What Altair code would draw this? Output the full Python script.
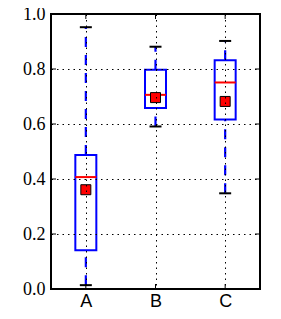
import altair as alt
import pandas as pd

cats = ["A", "B", "C"]
whisk_lo = [0.014, 0.591, 0.348]
q1 = [0.141, 0.658, 0.616]
median = [0.407, 0.706, 0.751]
q3 = [0.487, 0.797, 0.832]
whisk_hi = [0.952, 0.881, 0.902]
mean = [0.361, 0.696, 0.682]
y_ticks = [0.0, 0.2, 0.4, 0.6, 0.8, 1.0]

W, H = 209, 275

df = pd.DataFrame({"cat": cats, "lo": whisk_lo, "q1": q1, "med": median,
                   "q3": q3, "hi": whisk_hi, "mean": mean})
ticks_df = pd.DataFrame({"t": y_ticks})
frame_df = pd.DataFrame({"f": [0]})

xenc = alt.X("cat:N", scale=alt.Scale(type="point", padding=0.5, domain=cats),
             axis=alt.Axis(title=None, labelAngle=0, ticks=False, tickSize=0, domain=False,
                           grid=True, gridColor="black", gridDash=[1.5, 4], gridWidth=1,
                           labelFont="Liberation Sans", labelFontSize=18, labelColor="black",
                           labelPadding=3, zindex=1))
yscale = alt.Scale(domain=[0, 1], nice=False, zero=False)
yaxis = alt.Axis(title=None, values=y_ticks, format=".1f", ticks=False, tickSize=0, domain=False,
                 grid=True, gridColor="black", gridDash=[1.5, 4], gridWidth=1,
                 labelFont="Liberation Serif", labelFontSize=18, labelColor="black",
                 labelPadding=6, zindex=1)

base = alt.Chart(df)
blue = "#0000ff"

wl = base.mark_rule(color=blue, strokeWidth=2.2, strokeDash=[10, 8]).encode(
    x=xenc, y=alt.Y("lo:Q", scale=yscale, axis=yaxis), y2="q1:Q")
wh = base.mark_rule(color=blue, strokeWidth=2.2, strokeDash=[10, 8]).encode(
    x="cat:N", y="q3:Q", y2="hi:Q")
box = base.mark_bar(size=21, fill="white", fillOpacity=0, stroke=blue, strokeWidth=2).encode(
    x="cat:N", y="q1:Q", y2="q3:Q")
cap_lo = base.mark_tick(size=12, thickness=2, color="black", opacity=1).encode(x="cat:N", y="lo:Q")
cap_hi = base.mark_tick(size=12, thickness=2, color="black", opacity=1).encode(x="cat:N", y="hi:Q")
med = base.mark_tick(size=21, thickness=2, color="red", opacity=1).encode(x="cat:N", y="med:Q")
mn = base.mark_point(shape="square", size=100, filled=True, fill="red", stroke="black",
                     strokeWidth=1, opacity=1).encode(x="cat:N", y="mean:Q")

tk = alt.Chart(ticks_df)
tl = tk.mark_rule(color="black", strokeWidth=1).encode(y="t:Q", x=alt.value(0), x2=alt.value(5))
tr = tk.mark_rule(color="black", strokeWidth=1).encode(y="t:Q", x=alt.value(W), x2=alt.value(W - 5))
tt = base.mark_rule(color="black", strokeWidth=1).encode(x="cat:N", y=alt.value(0), y2=alt.value(5))
tb = base.mark_rule(color="black", strokeWidth=1).encode(x="cat:N", y=alt.value(H), y2=alt.value(H - 5))

frame = alt.Chart(frame_df).mark_rect(fillOpacity=0, stroke="black", strokeWidth=2).encode(
    x=alt.value(0), x2=alt.value(W), y=alt.value(0), y2=alt.value(H))

chart = alt.layer(wl, wh, box, cap_lo, cap_hi, med, mn, tl, tr, tt, tb, frame).properties(
    width=W, height=H,
    autosize=alt.AutoSizeParams(type="none"),
    padding={"left": 43, "top": 6, "right": 5, "bottom": 22},
).configure_view(strokeWidth=0).configure(background="white")

chart.save("out.html", embed_options={"renderer": "svg", "actions": False})
